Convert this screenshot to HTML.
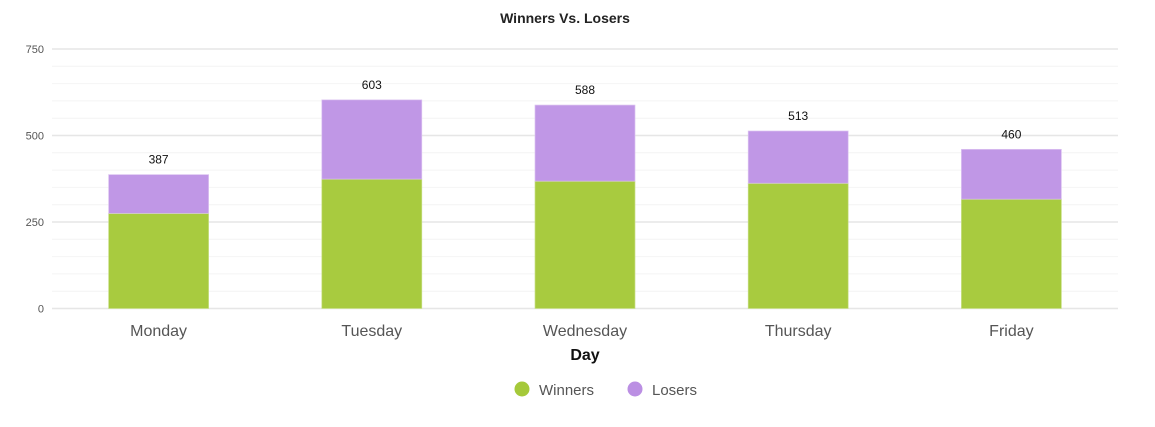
<!DOCTYPE html>
<html><head><meta charset="utf-8"><style>
html,body{margin:0;padding:0;background:#fff;width:1155px;height:427px;overflow:hidden;font-family:"Liberation Sans",sans-serif}
</style></head><body>
<svg id="chart" width="1155" height="427" xmlns="http://www.w3.org/2000/svg">
<text x="565" y="23" text-anchor="middle" font-size="14" font-weight="bold" fill="#222">Winners Vs. Losers</text>
<text x="585" y="360" text-anchor="middle" font-size="16" font-weight="bold" fill="#111">Day</text>
<g>
<g><circle cx="522" cy="389" r="7.5" fill="#a5c93a"/><text x="539" y="395" font-size="15" fill="#555">Winners</text></g>
<g><circle cx="635" cy="389" r="7.5" fill="#bb8fe3"/><text x="652" y="395" font-size="15" fill="#555">Losers</text></g>
</g>
<g id="grid"></g><g id="bars"></g>
</svg>
<script>
const categories = ["Monday","Tuesday","Wednesday","Thursday","Friday"];
const winners = [275, 374, 368, 362, 316];
const losers = [112, 229, 220, 151, 144];
const totals = [387, 603, 588, 513, 460];
const yTicks = [0, 250, 500, 750];
const NS = "http://www.w3.org/2000/svg";
const x0 = 52, x1 = 1118, y0 = 308.5, yTop = 49, yMax = 750;
const y = v => y0 - (v / yMax) * (y0 - yTop);
const band = (x1 - x0) / categories.length;
const xc = i => x0 + band * (i + 0.5);
const bw = 100;
function mk(tag, attrs, parent) { const e = document.createElementNS(NS, tag); for (const k in attrs) e.setAttribute(k, attrs[k]); parent.appendChild(e); return e; }
const grid = document.getElementById("grid");
for (let v = 0; v <= yMax; v += 50) {
  const major = yTicks.includes(v);
  const l = mk("line", {x1: x0, x2: x1, y1: y(v), y2: y(v), stroke: major ? "#e6e6e6" : "#f4f4f4", "stroke-width": major ? 1.5 : 1}, grid);
  
  
}
yTicks.forEach(v => {
  const t = mk("text", {x: 44, y: y(v) + 4, "text-anchor": "end", "font-size": 11, fill: "#555"}, grid);
  t.textContent = v;
  
  
});
const bars = document.getElementById("bars");
categories.forEach((c, i) => {
  const cx = xc(i);
  const w = mk("rect", {x: cx - bw / 2, y: y(winners[i]), width: bw, height: y0 - y(winners[i]), fill: "#a8cb3f", stroke: "#c9e08a", "stroke-width": 0.7}, bars);
  
  
  const top = winners[i] + losers[i];
  const l = mk("rect", {x: cx - bw / 2, y: y(top), width: bw, height: y(winners[i]) - y(top), fill: "#c097e6", stroke: "#dcc4f1", "stroke-width": 0.7}, bars);
  
  
  const tl = mk("text", {x: cx, y: y(top) - 11, "text-anchor": "middle", "font-size": 12, fill: "#111"}, bars);
  tl.textContent = totals[i];
  
  
  const xl = mk("text", {x: cx, y: 336, "text-anchor": "middle", "font-size": 16, fill: "#555"}, bars);
  xl.textContent = c;
  
  
});
</script>
</body></html>
